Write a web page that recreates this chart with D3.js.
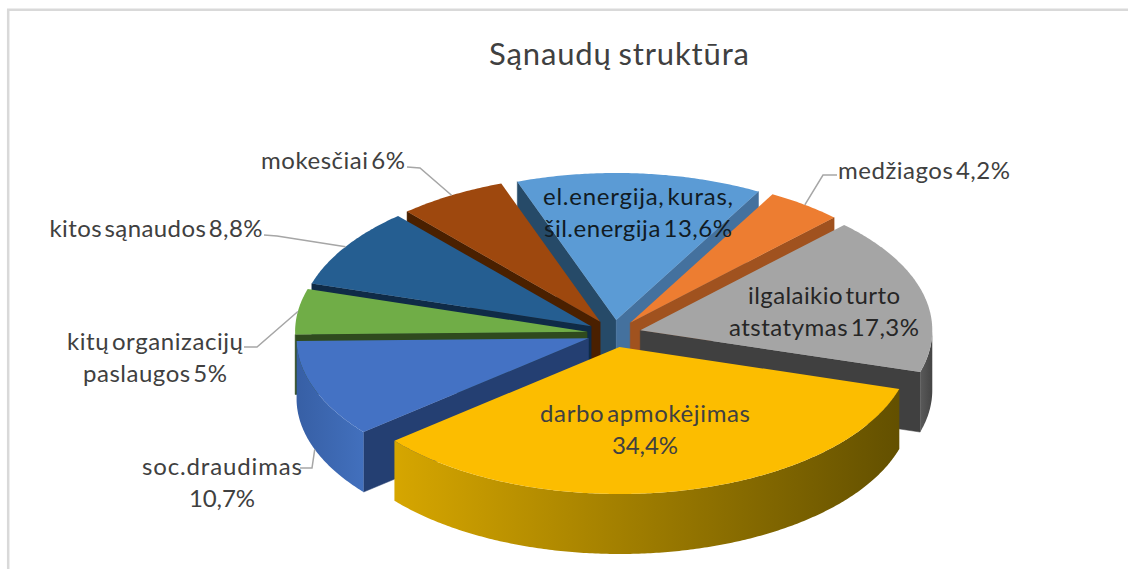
<!DOCTYPE html>
<html><head><meta charset="utf-8">
<script src="https://cdn.jsdelivr.net/npm/d3@7/dist/d3.min.js"></script>
<style>html,body{margin:0;padding:0;background:#fff}svg{display:block}text{font-family:Lato,"Open Sans",sans-serif}</style>
</head><body><svg id="c" width="1128" height="569"></svg>
<script>
const title = "Sąnaudų struktūra";
const categories = ["el.energija, kuras, šil.energija","medžiagos","ilgalaikio turto atstatymas","darbo apmokėjimas","soc.draudimas","kitų organizacijų paslaugos","kitos sąnaudos","mokesčiai"];
const values = [13.6,4.2,17.3,34.4,10.7,5,8.8,6];
const labelLines = [["el.energija, kuras,","šil.energija 13,6%"],["medžiagos 4,2%"],["ilgalaikio turto","atstatymas 17,3%"],["darbo apmokėjimas","34,4%"],["soc.draudimas","10,7%"],["kitų organizacijų","paslaugos 5%"],["kitos sąnaudos 8,8%"],["mokesčiai 6%"]];
const topColors = ["#5B9BD5","#ED7D31","#A5A5A5","#FCBD00","#4472C4","#70AD47","#255E91","#9E480E"];
const startWall = ["#264A68","#8F4A1E","#636363","#977200","#243F72","#2F4A1E","#0F2B47","#4A2000"];
const endWall = ["#44719E","#A0521F","#404040","#977200","#243F72","#2F4A1E","#0F2B47","#4A2000"];
const rimLeft = ["#3A6A96","#A0521F","#5A5A5A","#D6A600","#375FA5","#3F6A2A","#163F63","#6B3209"];
const rimRight = ["#3A6A96","#A0521F","#444444","#635000","#4270BD","#3F6A2A","#163F63","#6B3209"];
const paintOrder = [0,7,6,5,4,1,2,3];
// label layout: [centre x, first baseline y, [line widths]]
const labelLayout = [[638,205,[190,188]],[924,179,[172]],[824,304,[152,190]],[645,422,[210,66]],[222,475,[160,66]],[155,350,[176,144]],[156,237,[213]],[333,169,[144]]];
const labelColors = ["#111B24","#404040","#262626","#404040","#404040","#404040","#404040","#404040"];
// leader: elbow points from the label to the slice rim; rim height is 0 or depth
const leaders = [{i:7,pts:[[407,167],[420,168]],z:0},{i:6,pts:[[264,235],[277,236]],z:0},{i:5,pts:[[244,347],[257,347]],z:0},{i:4,pts:[[300,468],[312,468]],z:1},{i:1,pts:[[837,175],[823,175]],z:0}];

const W=1128,H=569;
const cx=614,cy=333.6,rx=292,ry=147,depth=60,explode=0.093;
const rotation=-19.8*Math.PI/180;
const svg=d3.select("#c");
const defs=svg.append("defs");
// frame: only top and left edges lie inside the picture
svg.append("path").attr("d",line0()).attr("fill","none").attr("stroke","#D9D9D9").attr("stroke-width",2.5);
function line0(){return d3.line()([[8.2,H],[8.2,9.7],[W,9.7]]);}
svg.append("text").attr("x",619).attr("y",65).attr("text-anchor","middle").attr("font-size",31).attr("fill","#404040").attr("textLength",260).attr("lengthAdjust","spacing").attr("word-spacing",-2).text(title);

const pie=d3.pie().sort(null).startAngle(rotation).endAngle(rotation+2*Math.PI);
const arcs=pie(values);
const xs=d3.scaleLinear().domain([-1,1]).range([cx-rx,cx+rx]);
const ys=d3.scaleLinear().domain([-1,1]).range([cy-ry,cy+ry]);
const off=d=>{const m=(d.startAngle+d.endAngle)/2;return [explode*Math.sin(m),-explode*Math.cos(m)];};
function P(d,a,r,z){const o=off(d);return [xs(o[0]+r*Math.sin(a)),ys(o[1]-r*Math.cos(a))+z];}
const line=d3.line();
const samples=(a,b)=>{const n=Math.max(2,Math.ceil((b-a)/0.01));return d3.range(n+1).map(k=>a+(b-a)*k/n);};

paintOrder.forEach(i=>{
  const d=arcs[i],a0=d.startAngle,a1=d.endAngle;
  const g=svg.append("g");
  if(Math.sin(a0)<0) g.append("path").attr("d",line([P(d,0,0,0),P(d,a0,1,0),P(d,a0,1,depth),P(d,0,0,depth)])+"Z").attr("fill",startWall[i]).attr("stroke",startWall[i]).attr("stroke-width",.5);
  if(Math.sin(a1)>0) g.append("path").attr("d",line([P(d,0,0,0),P(d,a1,1,0),P(d,a1,1,depth),P(d,0,0,depth)])+"Z").attr("fill",endWall[i]).attr("stroke",endWall[i]).attr("stroke-width",.5);
  const r0=Math.max(a0,Math.PI/2),r1=Math.min(a1,3*Math.PI/2);
  if(r1>r0){
    const s=samples(r0,r1);
    const topEdge=s.map(a=>P(d,a,1,0)),botEdge=s.map(a=>P(d,a,1,depth)).reverse();
    const ex=d3.extent(topEdge,p=>p[0]);
    const gid="rim"+i;
    const lg=defs.append("linearGradient").attr("id",gid).attr("gradientUnits","userSpaceOnUse").attr("x1",ex[0]).attr("x2",ex[1]).attr("y1",0).attr("y2",0);
    lg.append("stop").attr("offset",0).attr("stop-color",rimLeft[i]);
    lg.append("stop").attr("offset",1).attr("stop-color",rimRight[i]);
    g.append("path").attr("d",line(topEdge.concat(botEdge))+"Z").attr("fill","url(#"+gid+")");
  }
  const top=[P(d,0,0,0)].concat(samples(a0,a1).map(a=>P(d,a,1,0)));
  g.append("path").attr("d",line(top)+"Z").attr("fill",topColors[i]);
});

leaders.forEach(l=>{
  const d=arcs[l.i],m=(d.startAngle+d.endAngle)/2;
  svg.append("path").attr("d",line(l.pts.concat([P(d,m,1,l.z*depth)]))).attr("fill","none").attr("stroke","#A6A6A6").attr("stroke-width",1.5);
});

labelLines.forEach((lines,i)=>{
  const L=labelLayout[i];
  lines.forEach((t,k)=>{
    svg.append("text").attr("x",L[0]).attr("y",L[1]+k*31.5).attr("text-anchor","middle").attr("font-size",24).attr("fill",labelColors[i]).attr("word-spacing",-4).attr("textLength",L[2][k]).attr("lengthAdjust","spacing").text(t);
  });
});
</script></body></html>
